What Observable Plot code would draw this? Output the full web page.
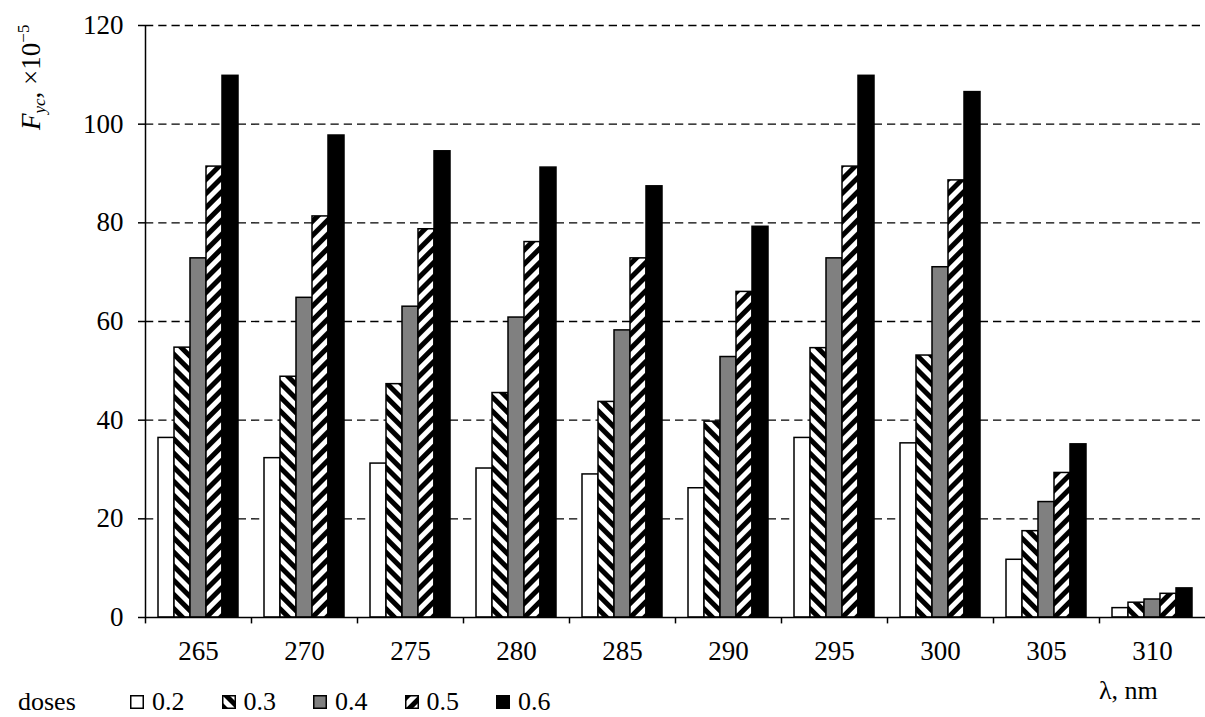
<!DOCTYPE html>
<html>
<head>
<meta charset="utf-8">
<script src="https://cdn.jsdelivr.net/npm/d3@7"></script>
<script src="https://cdn.jsdelivr.net/npm/@observablehq/plot@0.6"></script>
<style>
  body { margin: 0; background: #fff; font-family: "Liberation Serif", "Times New Roman", serif; color: #000; }
  #wrap { position: relative; width: 1205px; height: 717px; overflow: hidden; }
  #chart { position: absolute; left: 0; top: 0; }
  #defs { position: absolute; width: 0; height: 0; }
  #ylab { position: absolute; left: 8px; top: 130px; transform-origin: 0 0; transform: rotate(-90deg);
          font-size: 27px; line-height: 32px; white-space: nowrap; }
  #ylab sub { font-size: 17px; vertical-align: -5px; }
  #ylab sup { font-size: 17px; vertical-align: 11px; }
  #xlab { position: absolute; left: 1099px; top: 677px; font-size: 26px; line-height: 28px; white-space: nowrap; }
  #legend { position: absolute; left: 18px; top: 690px; font-size: 26px; display: flex; align-items: center; line-height: 24px; }
  #legend .title { width: 112px; }
  #legend .item { display: flex; align-items: center; width: 91.5px; }
  #legend .item svg { margin-right: 8px; }
</style>
</head>
<body>
<svg id="defs" aria-hidden="true">
  <defs>
    <pattern id="h03" patternUnits="userSpaceOnUse" width="10" height="10" patternTransform="rotate(-45)">
      <rect width="10" height="10" fill="white"></rect>
      <rect width="5" height="10" fill="black"></rect>
    </pattern>
    <pattern id="h05" patternUnits="userSpaceOnUse" width="10" height="10" patternTransform="rotate(45)">
      <rect width="10" height="10" fill="white"></rect>
      <rect width="5" height="10" fill="black"></rect>
    </pattern>
  </defs>
</svg>
<div id="wrap">
  <div id="chart"></div>
  <div id="ylab"><i>F</i><sub><i>ус</i></sub>, ×10<sup>−5</sup></div>
  <div id="xlab">λ, nm</div>
  <div id="legend"></div>
</div>
<script>
// ---- data ----
const lambdas = [265, 270, 275, 280, 285, 290, 295, 300, 305, 310];
const doses = ["0.2", "0.3", "0.4", "0.5", "0.6"];
const dose02 = [36.4, 32.3, 31.2, 30.2, 29.0, 26.2, 36.4, 35.3, 11.7, 1.9];
const dose03 = [54.7, 48.8, 47.3, 45.5, 43.7, 39.7, 54.6, 53.1, 17.5, 3.0];
const dose04 = [72.8, 64.8, 63.0, 60.8, 58.2, 52.8, 72.8, 71.0, 23.4, 3.65];
const dose05 = [91.4, 81.3, 78.7, 76.1, 72.8, 66.0, 91.4, 88.6, 29.3, 4.8];
const dose06 = [109.8, 97.7, 94.5, 91.2, 87.4, 79.2, 109.8, 106.5, 35.1, 5.9];
const yTicks = [0, 20, 40, 60, 80, 100, 120];
const gridTicks = [20, 40, 60, 80, 100, 120];
const fills = ["white", "url(#h03)", "#808080", "url(#h05)", "black"];

const series = [dose02, dose03, dose04, dose05, dose06];
const data = lambdas.flatMap((l, i) => doses.map((d, j) => ({lambda: l, dose: d, value: series[j][i]})));

const W = 1205, H = 672, mL = 145, mR = 0, mT = 25, mB = 55;
const facetW = (W - mL - mR) / lambdas.length;
const FS = 27;

const chart = Plot.plot({
  width: W, height: H,
  marginLeft: mL, marginRight: mR, marginTop: mT, marginBottom: mB,
  style: {fontFamily: "'Liberation Serif', 'Times New Roman', serif", fontSize: FS + "px", color: "black", background: "white", overflow: "visible"},
  fx: {domain: lambdas, padding: 0, label: null},
  x: {domain: doses, paddingInner: 0, paddingOuter: 0.78, axis: null},
  y: {domain: [0, 120], label: null},
  color: {domain: doses, range: fills},
  marks: [
    Plot.ruleY(gridTicks, {stroke: "black", strokeWidth: 1.3, strokeDasharray: "8.25,5"}),
    Plot.barY(data, {fx: "lambda", x: "dose", y: "value", fill: "dose", stroke: "black", strokeWidth: 1.5}),
    Plot.ruleY([0], {stroke: "black", strokeWidth: 1.5}),
    Plot.ruleX([0], {x: null, y1: 0, y2: -1.3, dx: -facetW / 2, stroke: "black", strokeWidth: 1.5}),
    Plot.ruleX([0], {x: null, y1: 0, y2: 120, dx: -facetW / 2, facetAnchor: "left", stroke: "black", strokeWidth: 1.5}),
    Plot.axisY({ticks: yTicks, tickSize: 7, tickPadding: 15, label: null, strokeWidth: 1.5, fontSize: FS}),
    Plot.axisFx({anchor: "bottom", tickSize: 0, tickPadding: 23, label: null, fontSize: FS})
  ]
});
document.getElementById("chart").appendChild(chart);

// ---- legend ----
const legend = document.getElementById("legend");
const t = document.createElement("div");
t.className = "title"; t.textContent = "doses";
legend.appendChild(t);
doses.forEach((d, j) => {
  const item = document.createElement("div");
  item.className = "item";
  item.innerHTML = `<svg width="14" height="14"><rect x="0.75" y="0.75" width="12.5" height="12.5" fill="${fills[j]}" stroke="black" stroke-width="1.5"></rect></svg><span>${d}</span>`;
  legend.appendChild(item);
});
</script>
</body>
</html>
